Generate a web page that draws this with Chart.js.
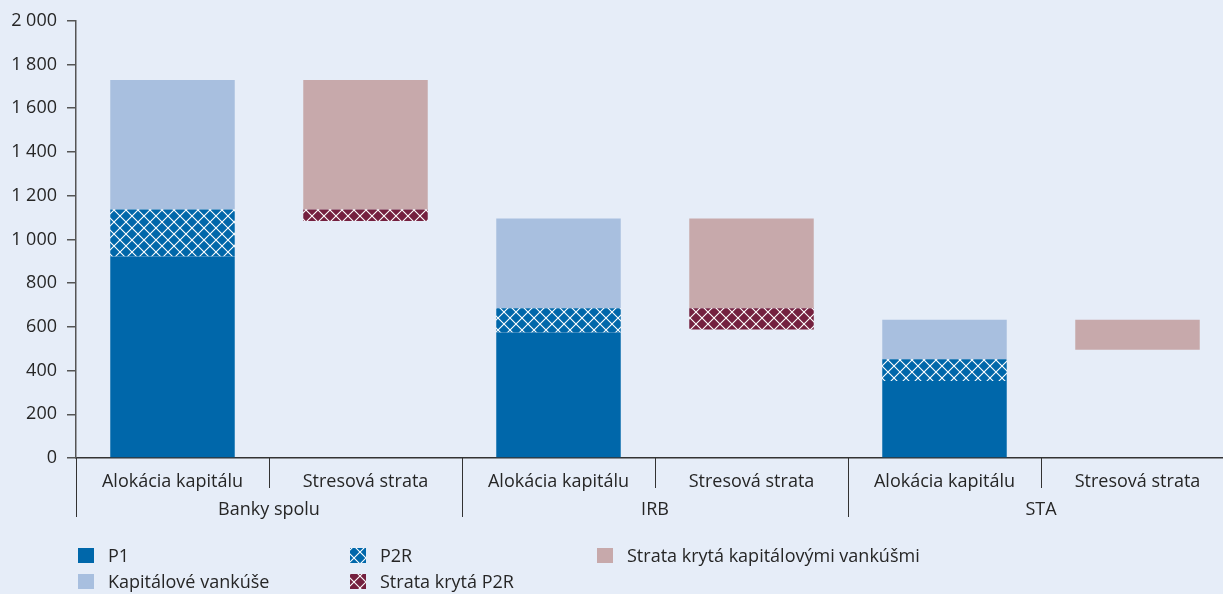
<!DOCTYPE html>
<html>
<head>
<meta charset="utf-8">
<script src="https://cdn.jsdelivr.net/npm/chart.js@4.4.1/dist/chart.umd.min.js"></script>
<style>
  html, body { margin: 0; padding: 0; background: #E6EDF8; overflow: hidden; }
  #wrap { width: 1234px; height: 594px; }
</style>
</head>
<body>
<div id="wrap"><canvas id="c" width="1234" height="594"></canvas></div>
<script>
// Categories and groups along the x axis
const categories = ['Alokácia kapitálu', 'Stresová strata', 'Alokácia kapitálu', 'Stresová strata', 'Alokácia kapitálu', 'Stresová strata'];
const groups = ['Banky spolu', 'IRB', 'STA'];

// Invisible base that lifts the stress-loss bars
const lossBase = [0, 1084, 0, 588, 0, 495];
// Capital allocation components
const p1 = [922, null, 574, null, 352, null];
const p2r = [215, null, 111, null, 100, null];
const buffers = [592, null, 411, null, 181, null];
// Stress loss components
const lossP2R = [null, 53, null, 97, null, null];
const lossBuffers = [null, 592, null, 411, null, 138];

// Y axis ticks
const yMin = 0, yMax = 2000, yStep = 200;

const FONT = '"Open Sans", sans-serif';
const TEXT = '#262626';
const C_P1 = '#0067AA';
const C_BUF = '#A8BFDF';
const C_LOSS_BUF = '#C7A9AB';
const C_LOSS_P2R = '#74203F';

function hatch(bg) {
  const s = 12;
  const p = document.createElement('canvas');
  p.width = s; p.height = s;
  const g = p.getContext('2d');
  g.fillStyle = bg;
  g.fillRect(0, 0, s, s);
  g.strokeStyle = '#ffffff';
  g.lineWidth = 1.1;
  g.beginPath();
  g.moveTo(0, 0); g.lineTo(s, s);
  g.moveTo(s, 0); g.lineTo(0, s);
  g.stroke();
  return document.getElementById('c').getContext('2d').createPattern(p, 'repeat');
}
const P_P2R = hatch(C_P1);
const P_LOSS_P2R = hatch(C_LOSS_P2R);

const legendItems = [
  { text: 'P1', fill: C_P1, col: 0, row: 0 },
  { text: 'Kapitálové vankúše', fill: C_BUF, col: 0, row: 1 },
  { text: 'P2R', fill: P_P2R, col: 1, row: 0 },
  { text: 'Strata krytá P2R', fill: P_LOSS_P2R, col: 1, row: 1 },
  { text: 'Strata krytá kapitálovými vankúšmi', fill: C_LOSS_BUF, col: 2, row: 0 }
];

const decorPlugin = {
  id: 'decor',
  afterDraw(chart) {
    const ctx = chart.ctx;
    const xs = chart.scales.x;
    const area = chart.chartArea;
    const catW = (area.right - area.left) / categories.length;
    ctx.save();
    // separators below the axis
    ctx.strokeStyle = '#333';
    ctx.lineWidth = 1;
    for (let i = 0; i <= categories.length; i++) {
      const x = Math.round(area.left + i * catW) + 0.5;
      ctx.beginPath();
      ctx.moveTo(x, area.bottom);
      ctx.lineTo(x, area.bottom + (i % 2 === 0 ? 59 : 30));
      ctx.stroke();
    }
    ctx.fillStyle = TEXT;
    ctx.font = '18px ' + FONT;
    ctx.textAlign = 'center';
    ctx.textBaseline = 'alphabetic';
    // category labels
    categories.forEach((c, i) => {
      ctx.fillText(c, xs.getPixelForValue(i), area.bottom + 29);
    });
    // group labels
    groups.forEach((g, i) => {
      ctx.fillText(g, area.left + (2 * i + 1) * catW, area.bottom + 57);
    });
    // legend
    const colX = [78, 350, 597];
    const rowY = [562, 588];
    ctx.textAlign = 'left';
    legendItems.forEach(it => {
      const x = colX[it.col], y = rowY[it.row];
      ctx.fillStyle = it.fill;
      ctx.fillRect(x, y - 14, 16, 15);
      ctx.fillStyle = TEXT;
      ctx.fillText(it.text, x + 30, y);
    });
    ctx.restore();
  }
};

new Chart(document.getElementById('c'), {
  type: 'bar',
  data: {
    labels: categories,
    datasets: [
      { label: 'base', data: lossBase, backgroundColor: 'rgba(0,0,0,0)' },
      { label: 'P1', data: p1, backgroundColor: C_P1 },
      { label: 'P2R', data: p2r, backgroundColor: P_P2R },
      { label: 'Kapitálové vankúše', data: buffers, backgroundColor: C_BUF },
      { label: 'Strata krytá P2R', data: lossP2R, backgroundColor: P_LOSS_P2R },
      { label: 'Strata krytá kapitálovými vankúšmi', data: lossBuffers, backgroundColor: C_LOSS_BUF }
    ]
  },
  options: {
    responsive: false,
    animation: false,
    layout: { padding: { top: 20, right: 0, left: 0, bottom: 0 } },
    datasets: { bar: { categoryPercentage: 0.645, barPercentage: 1 } },
    plugins: { legend: { display: false }, tooltip: { enabled: false } },
    scales: {
      x: {
        stacked: true,
        grid: { display: false },
        border: { display: true, color: '#333', width: 1.5 },
        ticks: { display: false },
        afterFit(s) { s.height = 136; }
      },
      y: {
        stacked: true,
        min: yMin, max: yMax,
        grid: { drawOnChartArea: false, tickLength: 9, color: '#555', lineWidth: 1.5 },
        border: { display: true, color: '#555', width: 1.5 },
        ticks: {
          stepSize: yStep,
          padding: 10,
          color: TEXT,
          font: { family: FONT, size: 18 },
          callback: v => String(v).replace(/\B(?=(\d{3})+(?!\d))/g, ' ')
        },
        afterFit(s) { s.width = 76; }
      }
    }
  },
  plugins: [decorPlugin]
});
</script>
</body>
</html>
